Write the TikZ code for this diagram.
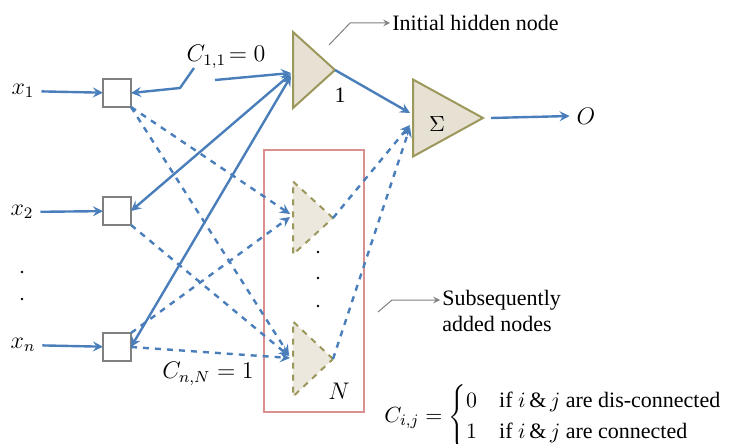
\documentclass[tikz,border=0pt]{standalone}
\usepackage{amsmath}
\usepackage{fontspec}
\setmainfont{Liberation Serif}
\usetikzlibrary{
    arrows,
    calc,
    shapes.geometric
}
\definecolor{linkblue}{HTML}{4A7EBB}
\definecolor{nodetan}{HTML}{E6E1D3}
\definecolor{nodeolive}{HTML}{9C975A}
\definecolor{boxred}{HTML}{D9908F}
\tikzset{
  inbox/.style={
    draw=gray,
    fill=white,
    line width=1pt,
    minimum size=14pt,
    inner sep=0pt,
    outer sep=0pt
  },
  hidnode/.style={
    isosceles triangle,
    isosceles triangle stretches,
    draw=nodeolive,
    fill=nodetan,
    line width=1pt,
    minimum width=38pt,
    minimum height=21pt,
    inner sep=0pt,
    outer sep=0pt
  },
  newnode/.style={
    hidnode,
    dashed,
    fill=nodetan!75
  },
  link/.style={
    linkblue,
    line width=1.2pt,
    ->
  },
  dlink/.style={
    link,
    dashed
  },
  note/.style={
    gray,
    line width=0.5pt,
    ->
  }
}

\begin{document}
\begin{tikzpicture}[x=0.5pt,y=-0.5pt,>=stealth,font=\rmfamily\fontsize{11}{13}\selectfont]
    \useasboundingbox (0,0) rectangle (729,444);

    % 入力
    \node (x1) at (23,91) {\large$x_1$};
    \node (x2) at (22,212) {\large$x_2$};
    \node (xn) at (23,345) {\large$x_n$};
    \fill (22,272) circle (1.3);
    \fill (22,299) circle (1.3);

    \node[inbox] (s1) at (117,93) {};
    \node[inbox] (s2) at (117,211) {};
    \node[inbox] (sn) at (117,347) {};

    \draw[link] (x1) -- (s1);
    \draw[link] (x2) -- (s2);
    \draw[link] (xn) -- (sn);

    % 隠れノード
    \node[hidnode,anchor=lower side] (h1) at (293,70) {};
    \node (h1lab) at (340,95) {1};

    \node[draw=boxred,line width=1pt,minimum width=50pt,minimum height=131pt,
          inner sep=0pt] (addbox) at (313.5,281) {};
    \node[newnode,minimum width=36.5pt,minimum height=20pt,anchor=lower side]
        (h2) at (293,218) {};
    \node[newnode,minimum width=37.5pt,minimum height=20pt,anchor=lower side]
        (hN) at (293,359) {};
    \fill (318,252) circle (1.3);
    \fill (318,278) circle (1.3);
    \fill (318,306) circle (1.3);
    \node (hNlab) at (339,391) {\large$N$};

    % 出力
    \node[hidnode,minimum width=38.5pt,minimum height=35pt,anchor=lower side]
        (sum) at (413,118) {};
    \node (sumlab) at (437,124) {$\Sigma$};
    \node (out) at (586,116) {\large$O$};
    \draw[link] (sum.apex) ++(8,0) coordinate (outstart) (outstart) -- (out.west);

    % 結合
    \coordinate (c11bend) at (180,88);
    \coordinate (c11end) at (194,68);
    \coordinate (c11start) at (215,80);
    \draw[link,<-] (s1.east) -- (c11bend) -- (c11end);
    \draw[link] (c11start) -- ($(h1.lower side)+(-2,3)$);
    \node (c11) at (226,57) {\large$C_{1,1}\!=0$};

    \draw[link,<->] (s2.east) -- ($(h1.lower side)+(-2,4)$);
    \draw[link,<->] (sn.east) -- ($(h1.lower side)+(-2,6)$);

    \draw[dlink] (s1.south east) -- ($(h2.lower side)+(-3,-4)$);
    \draw[dlink] (s1.south east) -- ($(hN.lower side)+(-4,-4)$);
    \draw[dlink] (s2.south east) -- ($(hN.lower side)+(-4,-3)$);
    \draw[dlink] (sn.north east) -- ($(h2.lower side)+(-3,-1)$);
    \draw[dlink] (sn.east) -- ($(hN.lower side)+(-3,-1)$);
    \node (cnN) at (208,374) {\large$C_{n,N}=1$};

    \draw[link] (h1.apex) -- ($(sum.lower side)+(-3,-5)$);
    \draw[dlink] (h2.apex) -- ($(sum.lower side)+(-3,7)$);
    \draw[dlink] (hN.apex) -- ($(sum.lower side)+(-3,9)$);

    % 注釈
    \coordinate (initfrom) at (329,45);
    \coordinate (initbend) at (350,23);
    \node[anchor=west,inner sep=1pt] (initlab) at (390,23) {Initial hidden node};
    \draw[note] (initfrom) -- (initbend) -- (initlab.west);

    \coordinate (addfrom) at (378,312);
    \coordinate (addbend) at (392,300);
    \node[anchor=west,align=left,inner sep=1pt] (addlab) at (440,311)
        {Subsequently\\added nodes};
    \draw[note] (addfrom) -- (addbend) -- (addbend -| addlab.west);

    \node[anchor=west,inner sep=0pt] (cdef) at (384,417)
        {$C_{i,j}=\begin{cases}
            0 & \text{if $i\,\&\,j$ are dis-connected}\\
            1 & \text{if $i\,\&\,j$ are connected}
          \end{cases}$};
\end{tikzpicture}
\end{document}
